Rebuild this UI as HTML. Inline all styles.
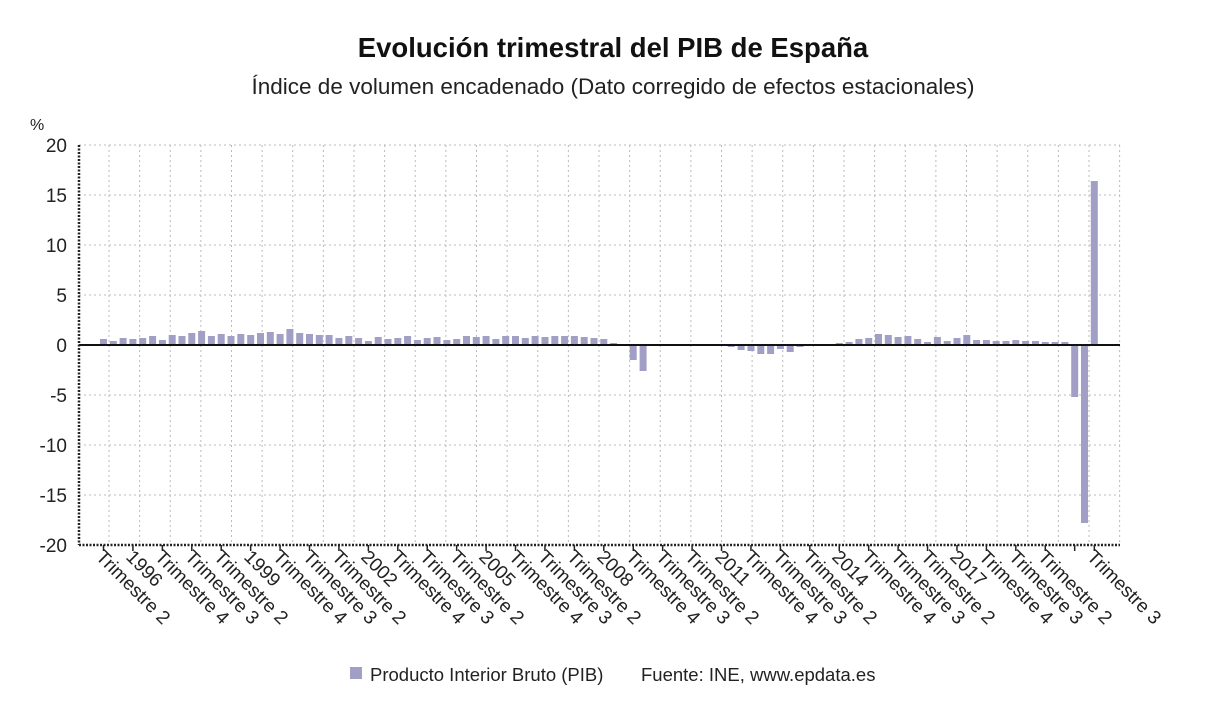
<!DOCTYPE html>
<html><head><meta charset="utf-8"><style>
html,body{margin:0;padding:0;background:#fff;}
svg{display:block;font-family:"Liberation Sans","DejaVu Sans",sans-serif;}
</style></head><body>
<svg id="c" width="1226" height="720" viewBox="0 0 1226 720" xmlns="http://www.w3.org/2000/svg">
<text x="613" y="57" text-anchor="middle" font-size="27.5" font-weight="bold" fill="#111">Evolución trimestral del PIB de España</text>
<text x="613" y="94" text-anchor="middle" font-size="22.5" fill="#222">Índice de volumen encadenado (Dato corregido de efectos estacionales)</text>
<text x="30" y="130" font-size="16" fill="#222">%</text>
<g id="grid" stroke="#bbb" stroke-width="1" stroke-dasharray="2,3"></g>
<g id="bars" fill="#a29fc6"></g>
<line x1="79" y1="345" x2="1120" y2="345" stroke="#111" stroke-width="2"/>
<line x1="79" y1="145" x2="79" y2="545" stroke="#222" stroke-width="2.5" stroke-dasharray="2,1.5"/>
<line x1="79" y1="545" x2="1120" y2="545" stroke="#222" stroke-width="2.5" stroke-dasharray="2,1.5"/>
<g font-size="19" fill="#222" text-anchor="end">
<text x="67" y="152">20</text><text x="67" y="202">15</text><text x="67" y="252">10</text><text x="67" y="302">5</text><text x="67" y="352">0</text><text x="67" y="402">-5</text><text x="67" y="452">-10</text><text x="67" y="502">-15</text><text x="67" y="552">-20</text>
</g>
<g id="ticks" stroke="#222" stroke-width="1.5"></g>
<g font-size="19" fill="#222">
<text transform="translate(95,558) rotate(45)">Trimestre 2</text>
<text transform="translate(125,558) rotate(45)">1996</text>
<text transform="translate(154,558) rotate(45)">Trimestre 4</text>
<text transform="translate(184,558) rotate(45)">Trimestre 3</text>
<text transform="translate(213,558) rotate(45)">Trimestre 2</text>
<text transform="translate(243,558) rotate(45)">1999</text>
<text transform="translate(272,558) rotate(45)">Trimestre 4</text>
<text transform="translate(302,558) rotate(45)">Trimestre 3</text>
<text transform="translate(331,558) rotate(45)">Trimestre 2</text>
<text transform="translate(360,558) rotate(45)">2002</text>
<text transform="translate(390,558) rotate(45)">Trimestre 4</text>
<text transform="translate(419,558) rotate(45)">Trimestre 3</text>
<text transform="translate(449,558) rotate(45)">Trimestre 2</text>
<text transform="translate(478,558) rotate(45)">2005</text>
<text transform="translate(508,558) rotate(45)">Trimestre 4</text>
<text transform="translate(537,558) rotate(45)">Trimestre 3</text>
<text transform="translate(566,558) rotate(45)">Trimestre 2</text>
<text transform="translate(596,558) rotate(45)">2008</text>
<text transform="translate(625,558) rotate(45)">Trimestre 4</text>
<text transform="translate(655,558) rotate(45)">Trimestre 3</text>
<text transform="translate(684,558) rotate(45)">Trimestre 2</text>
<text transform="translate(714,558) rotate(45)">2011</text>
<text transform="translate(743,558) rotate(45)">Trimestre 4</text>
<text transform="translate(772,558) rotate(45)">Trimestre 3</text>
<text transform="translate(802,558) rotate(45)">Trimestre 2</text>
<text transform="translate(831,558) rotate(45)">2014</text>
<text transform="translate(861,558) rotate(45)">Trimestre 4</text>
<text transform="translate(890,558) rotate(45)">Trimestre 3</text>
<text transform="translate(920,558) rotate(45)">Trimestre 2</text>
<text transform="translate(949,558) rotate(45)">2017</text>
<text transform="translate(978,558) rotate(45)">Trimestre 4</text>
<text transform="translate(1008,558) rotate(45)">Trimestre 3</text>
<text transform="translate(1037,558) rotate(45)">Trimestre 2</text>
<text transform="translate(1086,558) rotate(45)">Trimestre 3</text>
</g>
<rect x="350" y="667" width="12" height="12" fill="#a29fc6"/>
<text x="370" y="681" font-size="18.5" fill="#222">Producto Interior Bruto (PIB)</text>
<text x="641" y="681" font-size="18.5" fill="#222">Fuente: INE, www.epdata.es</text>
</svg>
<script>
var NS="http://www.w3.org/2000/svg";
function el(p,t,a){var e=document.createElementNS(NS,t);for(var k in a)e.setAttribute(k,a[k]);document.getElementById(p).appendChild(e);}
for(var y=145;y<545;y+=50)el("grid","line",{x1:79,x2:1120,y1:y,y2:y});
for(var k=0;k<=33;k++){var x=109+30.625*k;el("grid","line",{x1:x,x2:x,y1:145,y2:545});}
var d=[0.6,0.4,0.7,
0.6,0.7,0.9,0.5, 1.0,0.9,1.2,1.4, 0.9,1.1,0.9,1.1, 1.0,1.2,1.3,1.1, 1.6,1.2,1.1,1.0,
1.0,0.7,0.9,0.7, 0.4,0.8,0.6,0.7, 0.9,0.5,0.7,0.8, 0.5,0.6,0.9,0.8, 0.9,0.6,0.9,0.9,
0.7,0.9,0.8,0.9, 0.9,0.9,0.8,0.7, 0.6,0.2,0.05,-1.5,
-2.6,-0.1,0.05,0.05,0.05,0.1,0.05,0.1,0.05,
-0.2,-0.5,-0.6,-0.9,-0.9,-0.4,-0.7,-0.2,0.0,0.05,0.1,
0.2,0.3,0.6,0.7,1.1,1.0,0.8,0.9,0.6,0.3,0.8,0.4,0.7,1.0,0.5,0.5,0.4,0.4,0.5,0.4,0.4,0.3,0.3,0.3,
-5.2,-17.8,16.4];
for(var i=0;i<d.length;i++){var v=d[i],h=Math.abs(v)*10;el("bars","rect",{x:(100+i*9.81).toFixed(1),y:v>=0?345-h:345,width:7,height:Math.max(h,0.5)});}
for(var i=0;i<=101;i+=3){var x=103.5+9.81*i;el("ticks","line",{x1:x,x2:x,y1:545,y2:551});}
el("ticks","line",{x1:1094.3,x2:1094.3,y1:545,y2:551});
</script>
</body></html>
